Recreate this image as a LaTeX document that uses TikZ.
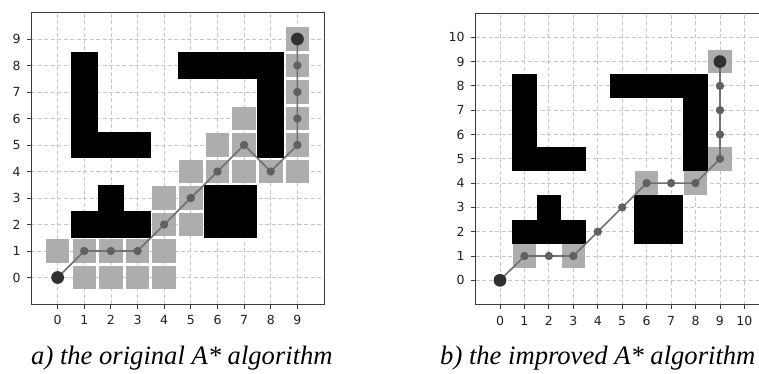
\documentclass[tikz,border=0pt]{standalone}
\usepackage{fontspec}
\setmainfont{Liberation Serif}
\newfontfamily\tickfont{DejaVu Sans}
\definecolor{gridgray}{HTML}{C6C6C6}
\definecolor{explored}{HTML}{ADADAD}
\definecolor{pathgray}{HTML}{707070}
\definecolor{dotgray}{HTML}{606060}
\definecolor{enddot}{HTML}{303030}
\definecolor{framecol}{HTML}{3C3C3C}
\definecolor{labelcol}{HTML}{222222}
\tikzset{
  gridline/.style={draw=gridgray, line width=0.8pt, dash pattern=on 4pt off 2.5pt},
  exploredcell/.style={fill=explored},
  obstacle/.style={fill=black},
  pathline/.style={draw=pathgray, line width=1.6pt},
  pathdot/.style={fill=dotgray},
  enddotstyle/.style={fill=enddot},
  framestyle/.style={draw=framecol, line width=0.9pt},
  ticklabel/.style={inner sep=0pt, text=labelcol, font=\tickfont\fontsize{12.5}{14}\selectfont},
  captionstyle/.style={inner sep=0pt, anchor=base west, font=\itshape\fontsize{26.6}{30}\selectfont}
}
\begin{document}
\begin{tikzpicture}[x=1pt,y=-1pt]
\useasboundingbox (0,0) rectangle (759,374);
\fill[white] (0,0) rectangle (759,374);

% ---------------- left plot ----------------
\begin{scope}[shift={(57.64pt,-277.5pt)}, x=26.64pt, y=26.5pt]
  \foreach \i in {0,...,9} {
    \draw[gridline] (\i,-1) -- (\i,10);
    \draw[gridline] (-1,\i) -- (10,\i);
  }
  \foreach \a/\b in {0/1,1/1,2/1,3/1,4/1,1/0,2/0,3/0,4/0,4/2,5/2,4/3,5/3,5/4,6/4,7/4,8/4,9/4,6/5,7/5,9/5,7/6,9/6,9/7,9/8,9/9}
    \fill[exploredcell] (\a,\b) ++(-11.75pt,-11.75pt) rectangle ++(23.5pt,23.5pt);
  \fill[obstacle] (0.5,4.5) rectangle (1.5,8.5);
  \fill[obstacle] (1.5,4.5) rectangle (3.5,5.5);
  \fill[obstacle] (4.5,7.5) rectangle (8.5,8.5);
  \fill[obstacle] (7.5,4.5) rectangle (8.5,7.5);
  \fill[obstacle] (0.5,1.5) rectangle (3.5,2.5);
  \fill[obstacle] (1.5,2.5) rectangle (2.5,3.5);
  \fill[obstacle] (5.5,1.5) rectangle (7.5,3.5);
  \path (0,0) coordinate (a0) (1,1) coordinate (a1) (2,1) coordinate (a2)
        (3,1) coordinate (a3) (4,2) coordinate (a4) (5,3) coordinate (a5)
        (6,4) coordinate (a6) (7,5) coordinate (a7) (8,4) coordinate (a8)
        (9,5) coordinate (a9) (9,6) coordinate (a10) (9,7) coordinate (a11)
        (9,8) coordinate (a12) (9,9) coordinate (a13);
  \draw[pathline] (a0) -- (a1) -- (a2) -- (a3) -- (a4) -- (a5) -- (a6) -- (a7)
        -- (a8) -- (a9) -- (a10) -- (a11) -- (a12) -- (a13);
  \foreach \k in {1,...,12} \fill[pathdot] (a\k) circle (4.2pt);
  \fill[enddotstyle] (a0) circle (6.4pt);
  \fill[enddotstyle] (a13) circle (6.4pt);
  \draw[framestyle] (-1,-1) rectangle (10,10);
  \foreach \i in {0,...,9} {
    \draw[framestyle] (\i,-1) -- ++(0,-4.5pt);
    \node[ticklabel, anchor=north] (lx\i) at ([yshift=-11.3pt]\i,-1) {\i};
    \draw[framestyle] (-1,\i) -- ++(-4.5pt,0);
    \node[ticklabel, anchor=east] (ly\i) at ([xshift=-10.3pt]-1,\i) {\i};
  }
\end{scope}

% ---------------- right plot ----------------
\begin{scope}
\clip (0,0) rectangle (759,374);
\begin{scope}[shift={(500pt,-280.3pt)}, x=24.44pt, y=24.3pt]
  \foreach \i in {0,...,10} {
    \draw[gridline] (\i,-1) -- (\i,11);
    \draw[gridline] (-1,\i) -- (11,\i);
  }
  \foreach \a/\b in {1/1,3/1,6/4,8/4,9/5,9/9}
    \fill[exploredcell] (\a,\b) ++(-11.75pt,-11.75pt) rectangle ++(23.5pt,23.5pt);
  \fill[obstacle] (0.5,4.5) rectangle (1.5,8.5);
  \fill[obstacle] (1.5,4.5) rectangle (3.5,5.5);
  \fill[obstacle] (4.5,7.5) rectangle (8.5,8.5);
  \fill[obstacle] (7.5,4.5) rectangle (8.5,7.5);
  \fill[obstacle] (0.5,1.5) rectangle (3.5,2.5);
  \fill[obstacle] (1.5,2.5) rectangle (2.5,3.5);
  \fill[obstacle] (5.5,1.5) rectangle (7.5,3.5);
  \path (0,0) coordinate (b0) (1,1) coordinate (b1) (2,1) coordinate (b2)
        (3,1) coordinate (b3) (4,2) coordinate (b4) (5,3) coordinate (b5)
        (6,4) coordinate (b6) (7,4) coordinate (b7) (8,4) coordinate (b8)
        (9,5) coordinate (b9) (9,6) coordinate (b10) (9,7) coordinate (b11)
        (9,8) coordinate (b12) (9,9) coordinate (b13);
  \draw[pathline] (b0) -- (b1) -- (b2) -- (b3) -- (b4) -- (b5) -- (b6) -- (b7)
        -- (b8) -- (b9) -- (b10) -- (b11) -- (b12) -- (b13);
  \foreach \k in {1,...,12} \fill[pathdot] (b\k) circle (4.2pt);
  \fill[enddotstyle] (b0) circle (6.4pt);
  \fill[enddotstyle] (b13) circle (6.4pt);
  \draw[framestyle] (-1,-1) rectangle (11,11);
  \foreach \i in {0,...,10} {
    \draw[framestyle] (\i,-1) -- ++(0,-4.5pt);
    \node[ticklabel, anchor=north] (rx\i) at ([yshift=-11.3pt]\i,-1) {\i};
    \draw[framestyle] (-1,\i) -- ++(-4.5pt,0);
    \node[ticklabel, anchor=east] (ry\i) at ([xshift=-10.8pt]-1,\i) {\i};
  }
\end{scope}
\end{scope}

% ---------------- captions ----------------
\node[captionstyle] (capa) at (31,364) {a) the original A* algorithm};
\node[captionstyle] (capb) at (440,364) {b) the improved A* algorithm};
\end{tikzpicture}
\end{document}
